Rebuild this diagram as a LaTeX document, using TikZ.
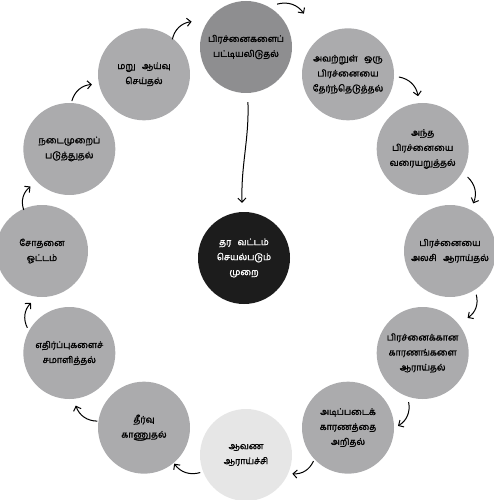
\documentclass[tikz,border=0pt]{standalone}
\usepackage{fontspec}
\usepackage{tikz}
\usetikzlibrary{arrows.meta}
\newfontfamily\tamilfont[Script=Tamil, FakeBold=1.6]{Hind Madurai}

\definecolor{stepgray}{HTML}{ABABAD}
\definecolor{firstgray}{HTML}{8E8E90}
\definecolor{docgray}{HTML}{E6E6E6}
\definecolor{coreblack}{HTML}{1C1C1C}

\tikzset{
	stepnode/.style={circle, minimum size=92pt, inner sep=0pt, fill=stepgray, align=center,
		font=\tamilfont\fontsize{9}{15}\selectfont},
	cyclearrow/.style={-{Straight Barb[length=4pt,width=8pt]}, line width=1pt}
}

\begin{document}
\begin{tikzpicture}[x=1pt,y=1pt]
	\useasboundingbox (0,0) rectangle (493,-500);
	\coordinate (ring) at (246,-251);

	\foreach \i/\col/\txt in {
		0/firstgray/{பிரச்னைகளைப்\\பட்டியலிடுதல்},
		1/stepgray/{அவற்றுள்\hspace{0.7em}ஒரு\\பிரச்னையை\\தேர்ந்தெடுத்தல்},
		2/stepgray/{அந்த\\பிரச்னையை\\வரையறுத்தல்},
		3/stepgray/{பிரச்னையை\\அலசி\hspace{0.7em}ஆராய்தல்},
		4/stepgray/{பிரச்னைக்கான\\காரணங்களை\\ஆராய்தல்},
		5/stepgray/{அடிப்படைக்\\காரணத்தை\\அறிதல்},
		6/docgray/{ஆவண\\ஆராய்ச்சி},
		7/stepgray/{தீர்வு\\காணுதல்},
		8/stepgray/{எதிர்ப்புகளைச்\\சமாளித்தல்},
		9/stepgray/{சோதனை\\ஓட்டம்},
		10/stepgray/{நடைமுறைப்\\படுத்துதல்},
		11/stepgray/{மறு\hspace{0.7em}ஆய்வு\\செய்தல்}}
		\node[stepnode, fill=\col] (c\i) at ([shift={(90-30*\i:204)}]ring) {\txt};

	\node[stepnode, fill=coreblack, text=white] (core) at (244,-258) {தர\hspace{0.7em}வட்டம்\\செயல்படும்\\முறை};

	\foreach \i/\j/\sa/\sd/\ea/\ed in {0/1/54/53/126/75, 1/2/-3/51/95/53, 2/3/-32/53/64/53,
		3/4/-59/51/38/57, 4/5/-106/51/2/50, 5/6/-136/48/-22/50, 6/7/-159/49/-50/47,
		7/8/172/47/-83/53, 8/9/149/49/-102/53, 9/10/114/45/-136/54, 10/11/87/48/-169/53,
		11/0/51/45/155/60}
		\draw[cyclearrow] ([shift={(\sa:\sd)}]c\i.center) to[bend left=35] ([shift={(\ea:\ed)}]c\j.center);

	\draw[cyclearrow, shorten <=9pt, shorten >=9pt] (c0) to[out=-88,in=92] (core);
\end{tikzpicture}
\end{document}
